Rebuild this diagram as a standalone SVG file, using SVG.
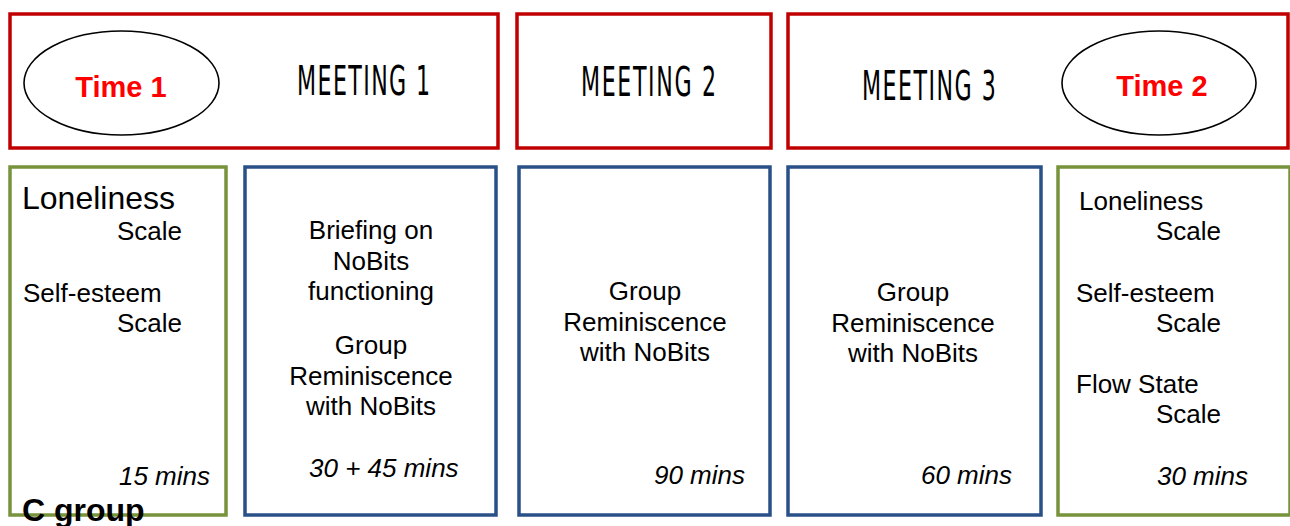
<svg xmlns="http://www.w3.org/2000/svg" width="1290" height="526" viewBox="0 0 1290 526">
<style>
.red{fill:#fff;stroke:#C00000;stroke-width:3.5}
.blue{fill:#fff;stroke:#2A5088;stroke-width:3.5}
.green{fill:#fff;stroke:#77933C;stroke-width:3.5}
.ell{fill:#fff;stroke:#000;stroke-width:1.6}
.time{font-family:"Liberation Sans",Arial,sans-serif;font-weight:bold;font-size:29px;fill:#FF0000;text-anchor:middle}
.meet{font-family:"DejaVu Sans Condensed","DejaVu Sans",sans-serif;font-size:41px;fill:#000}
.t{font-family:"Liberation Sans",Arial,sans-serif;font-size:26px;fill:#000}
.c{text-anchor:middle}
.r{text-anchor:end}
.i{font-style:italic}
</style>
<g id="meeting1">
<rect class="red" x="10" y="14" width="488" height="134"/>
<ellipse class="ell" cx="121.5" cy="83" rx="97.5" ry="52"/>
<text class="time" x="121" y="97">Time 1</text>
<text class="meet" transform="translate(297,95) scale(0.6,1)" x="0" y="0" textLength="222" lengthAdjust="spacing">MEETING 1</text>
</g>
<g id="meeting2">
<rect class="red" x="517" y="14" width="254" height="134"/>
<text class="meet" transform="translate(581,96) scale(0.6,1)" x="0" y="0" textLength="225" lengthAdjust="spacing">MEETING 2</text>
</g>
<g id="meeting3">
<rect class="red" x="788" y="14" width="500" height="134"/>
<text class="meet" transform="translate(862,100) scale(0.6,1)" x="0" y="0" textLength="223" lengthAdjust="spacing">MEETING 3</text>
<ellipse class="ell" cx="1159" cy="83" rx="97" ry="52"/>
<text class="time" x="1162" y="96">Time 2</text>
</g>
<g id="time1-measures">
<rect class="green" x="10" y="167" width="216" height="348"/>
<text class="t" x="22" y="209" style="font-size:32px">Loneliness</text>
<text class="t" x="117" y="240">Scale</text>
<text class="t" x="23" y="302">Self-esteem</text>
<text class="t" x="117" y="332">Scale</text>
<text class="t i r" x="210" y="485">15 mins</text>
</g>
<g id="session1">
<rect class="blue" x="245" y="167" width="251" height="348"/>
<text class="t c" x="371" y="239">Briefing on</text>
<text class="t c" x="371" y="270">NoBits</text>
<text class="t c" x="371" y="300">functioning</text>
<text class="t c" x="371" y="354">Group</text>
<text class="t c" x="371" y="385">Reminiscence</text>
<text class="t c" x="371" y="415">with NoBits</text>
<text class="t i" x="309" y="477">30 + 45 mins</text>
</g>
<g id="session2">
<rect class="blue" x="519" y="167" width="251" height="348"/>
<text class="t c" x="645" y="300">Group</text>
<text class="t c" x="645" y="331">Reminiscence</text>
<text class="t c" x="645" y="361">with NoBits</text>
<text class="t i r" x="745" y="484">90 mins</text>
</g>
<g id="session3">
<rect class="blue" x="788" y="167" width="253" height="348"/>
<text class="t c" x="913" y="301">Group</text>
<text class="t c" x="913" y="332">Reminiscence</text>
<text class="t c" x="913" y="362">with NoBits</text>
<text class="t i r" x="1012" y="484">60 mins</text>
</g>
<g id="time2-measures">
<rect class="green" x="1058" y="167" width="232" height="348"/>
<text class="t" x="1079" y="210">Loneliness</text>
<text class="t" x="1156" y="240">Scale</text>
<text class="t" x="1076" y="302">Self-esteem</text>
<text class="t" x="1156" y="332">Scale</text>
<text class="t" x="1076" y="393">Flow State</text>
<text class="t" x="1156" y="423">Scale</text>
<text class="t i r" x="1248" y="485">30 mins</text>
</g>
<g id="label">
<text class="t" x="22" y="521" style="font-weight:bold;font-size:32px">C group</text>
</g>
<g id="connectors"/>
</svg>
